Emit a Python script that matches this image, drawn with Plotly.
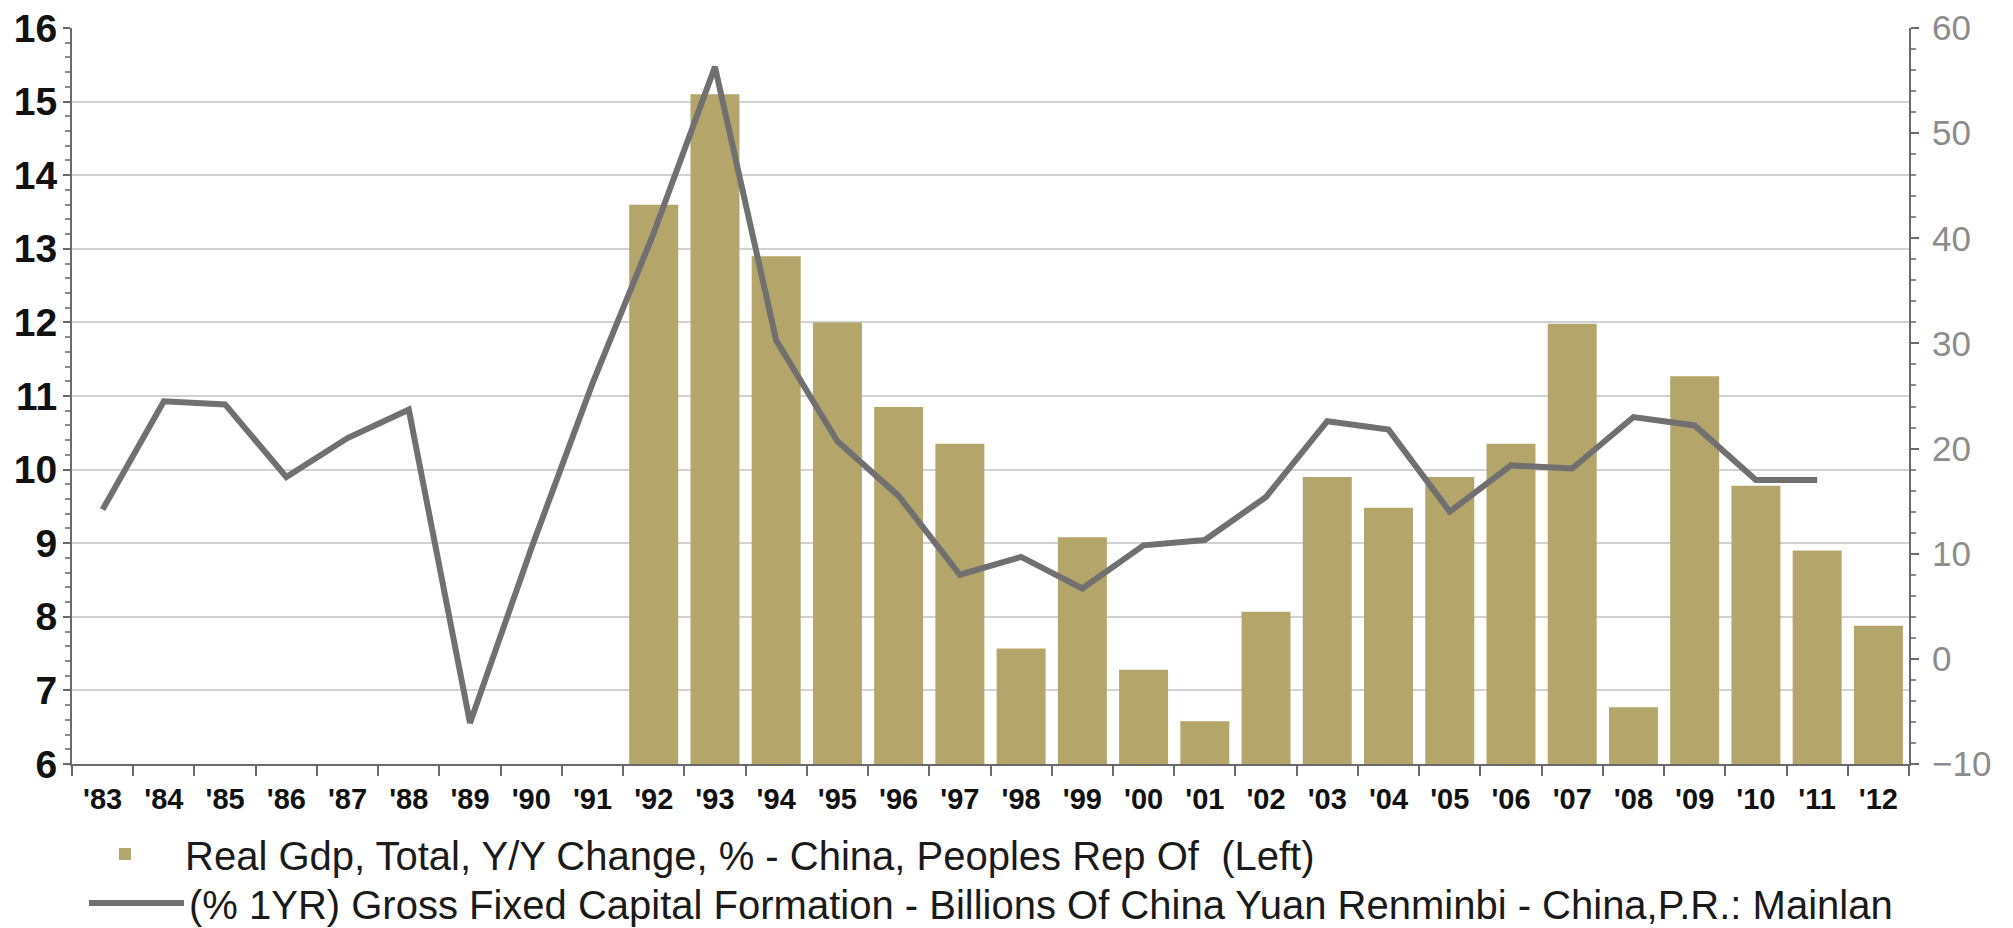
import plotly.graph_objects as go

# ---- data ----
year_labels = ["'83", "'84", "'85", "'86", "'87", "'88", "'89", "'90", "'91", "'92",
               "'93", "'94", "'95", "'96", "'97", "'98", "'99", "'00", "'01", "'02",
               "'03", "'04", "'05", "'06", "'07", "'08", "'09", "'10", "'11", "'12"]

gdp_growth = [None, None, None, None, None, None, None, None, None, 13.6,
              15.1, 12.9, 12.0, 10.85, 10.35, 7.57, 9.08, 7.28, 6.58, 8.07,
              9.9, 9.48, 9.9, 10.35, 11.98, 6.77, 11.27, 9.78, 8.9, 7.88]

gfcf_growth = [14.2, 24.5, 24.2, 17.3, 21.0, 23.7, -6.1, 10.5, 26.2, 40.5,
               56.3, 30.3, 20.7, 15.5, 8.0, 9.7, 6.7, 10.8, 11.3, 15.4,
               22.6, 21.8, 14.0, 18.4, 18.1, 23.0, 22.2, 17.0, 17.0, None]

gdp_name = "Real Gdp, Total, Y/Y Change, % - China, Peoples Rep Of  (Left)"
gfcf_name = "(% 1YR) Gross Fixed Capital Formation - Billions Of China Yuan Renminbi - China,P.R.: Mainlan"

left_ticks = list(range(6, 17))
right_ticks = list(range(-10, 61, 10))

BAR_COLOR = "#b4a56b"
LINE_COLOR = "#707070"
W, H = 2013, 928
OFF = 8  # page body margin offset
L, R, T, B = 72 - OFF, 104 + OFF, 28 - OFF, 164 + OFF

fig = go.Figure()
fig.add_trace(go.Bar(
    x=year_labels, y=gdp_growth, name=gdp_name, marker_color=BAR_COLOR,
    marker_line_width=0, yaxis="y", legend="legend",
))
fig.add_trace(go.Scatter(
    x=year_labels, y=gfcf_growth, name=gfcf_name, mode="lines",
    line=dict(color=LINE_COLOR, width=6), yaxis="y2", legend="legend2",
    connectgaps=False,
))

def cx(px):
    return px / W

def cy(py):
    return 1 - py / H

LEG_FONT = dict(family="Liberation Sans", size=40, color="#1a1a1a")

fig.update_layout(
    width=W, height=H,
    margin=dict(l=L, r=R, t=T, b=B, pad=0, autoexpand=False),
    paper_bgcolor="white", plot_bgcolor="white",
    bargap=0.2,
    font=dict(family="Liberation Sans, Arial, sans-serif", color="#111111"),
    xaxis=dict(
        type="category", range=[-0.5, 29.5],
        showline=True, linecolor="#6a6a6a", linewidth=2,
        ticks="outside", ticklen=10, tickcolor="#6a6a6a", tickwidth=2,
        tickson="boundaries", ticklabelstandoff=8,
        tickfont=dict(family="Liberation Sans", size=29, color="#111111", weight="bold"),
        showgrid=False, zeroline=False,
    ),
    yaxis=dict(
        range=[6, 16], tickvals=left_ticks,
        showline=True, linecolor="#6a6a6a", linewidth=2,
        ticks="outside", ticklen=7, tickcolor="#6a6a6a", tickwidth=2,
        minor=dict(dtick=0.2, ticks="outside", ticklen=5, tickcolor="#8a8a8a", tickwidth=1.5, showgrid=False),
        tickfont=dict(family="Liberation Sans", size=39, color="#111111", weight="bold"),
        ticklabelstandoff=-2, ticklabeloverflow="allow",
        showgrid=True, gridcolor="#d2d2d6", gridwidth=2,
        zeroline=False,
    ),
    yaxis2=dict(
        range=[-10, 60], tickvals=right_ticks, overlaying="y", side="right",
        showline=True, linecolor="#6a6a6a", linewidth=2,
        ticks="outside", ticklen=8, tickcolor="#6a6a6a", tickwidth=2,
        minor=dict(dtick=2, ticks="outside", ticklen=5, tickcolor="#8a8a8a", tickwidth=1.5, showgrid=False),
        tickfont=dict(family="Liberation Sans", size=35, color="#8c8c8c"),
        ticklabelstandoff=6, ticklabeloverflow="allow",
        showgrid=False, zeroline=False,
    ),
    legend=dict(
        x=cx(57), y=cy(846), xanchor="left", yanchor="middle",
        xref="container", yref="container", itemwidth=110,
        font=LEG_FONT, bgcolor="rgba(0,0,0,0)", borderwidth=0,
    ),
    legend2=dict(
        x=cx(76), y=cy(895), xanchor="left", yanchor="middle",
        xref="container", yref="container", itemwidth=95,
        font=LEG_FONT, bgcolor="rgba(0,0,0,0)", borderwidth=0,
    ),
    showlegend=True,
)

fig.write_html("out.html")
